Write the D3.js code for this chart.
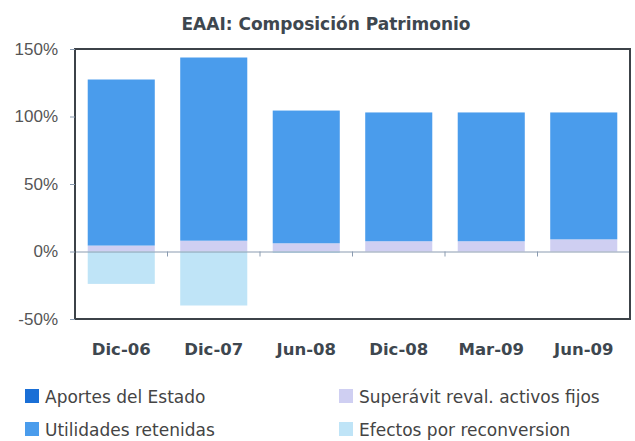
<!DOCTYPE html>
<html>
<head>
<meta charset="utf-8">
<script src="https://cdn.jsdelivr.net/npm/d3@7"></script>
<style>
  body { margin: 0; background: #fff; }
  svg { display: block; }
</style>
</head>
<body>
<div id="chart"></div>
<script>
// Data (percent of equity)
let periods = ['Dic-06', 'Dic-07', 'Jun-08', 'Dic-08', 'Mar-09', 'Jun-09']
let aportes = [0, 0, 0, 0, 0, 0]
let utilidades = [123, 135.7, 98.3, 95.4, 95.4, 94]
let superavit = [4.4, 8, 6.1, 7.6, 7.6, 9]
let efectos = [-24, -40, -1, 0, 0, 0]
let yTicks = [-50, 0, 50, 100, 150]

let seriesNames = ['Aportes del Estado', 'Utilidades retenidas', 'Superávit reval. activos fijos', 'Efectos por reconversion']
let seriesColors = ['#1a6fd6', '#4a9cec', '#cfcff2', '#bfe4f7']

// Plot constants
let W = 635, H = 441
let margin = {t: 49, r: 5, b: 122, l: 75}
let plotW = W - margin.l - margin.r
let plotH = H - margin.t - margin.b

let svg = d3.select('#chart').append('svg')
  .attr('width', W)
  .attr('height', H)
  .style('font-family', 'DejaVu Sans, sans-serif')

let x = d3.scaleBand()
  .domain(periods)
  .range([margin.l, margin.l + plotW])
  .paddingInner(0.275)
  .paddingOuter(0.1375)

let y = d3.scaleLinear()
  .domain([-50, 150])
  .range([margin.t + plotH, margin.t])

// Stacked segments: superávit at the base, then aportes, utilidades; efectos below zero
let rows = periods.map(function(p, i) {
  return {period: p, sup: superavit[i], apo: aportes[i], uti: utilidades[i], efe: efectos[i]}
})
let segs = []
rows.forEach(function(d) {
  let y0 = 0
  ;[['sup', 2], ['apo', 0], ['uti', 1]].forEach(function(k) {
    let v = d[k[0]]
    segs.push({period: d.period, y0: y0, y1: y0 + v, color: seriesColors[k[1]]})
    y0 += v
  })
  segs.push({period: d.period, y0: d.efe, y1: 0, color: seriesColors[3]})
})

svg.append('g')
  .selectAll('rect')
  .data(segs.filter(function(d) { return d.y1 !== d.y0 }))
  .enter().append('rect')
  .attr('x', function(d) { return x(d.period) })
  .attr('width', x.bandwidth())
  .attr('y', function(d) { return y(Math.max(d.y0, d.y1)) })
  .attr('height', function(d) { return Math.abs(y(d.y0) - y(d.y1)) })
  .style('fill', function(d) { return d.color })

// Zero line with category ticks
let zeroAxis = d3.axisBottom(x).tickSize(0).tickFormat('')
svg.append('g')
  .attr('transform', `translate(0,${y(0)})`)
  .call(zeroAxis)
  .call(function(g) { g.select('.domain').attr('stroke', '#8a9bb0').attr('stroke-width', 1) })
svg.append('g')
  .selectAll('line')
  .data(periods.slice(1))
  .enter().append('line')
  .attr('x1', function(d) { return x(d) - x.step() * x.paddingInner() / 2 })
  .attr('x2', function(d) { return x(d) - x.step() * x.paddingInner() / 2 })
  .attr('y1', y(0))
  .attr('y2', y(0) + 5)
  .attr('stroke', '#8a9bb0')

// Frame, drawn as four lines
let x0 = margin.l, x1 = margin.l + plotW, yT = y(150), yB = y(-50)
let frame = [[x0, yT, x1, yT], [x1, yT, x1, yB], [x0, yB, x1, yB], [x0, yT, x0, yB]]
svg.append('g')
  .selectAll('line')
  .data(frame)
  .enter().append('line')
  .attr('x1', function(d) { return d[0] })
  .attr('y1', function(d) { return d[1] })
  .attr('x2', function(d) { return d[2] })
  .attr('y2', function(d) { return d[3] })
  .attr('stroke', '#3c4248')
  .attr('stroke-width', 2)
  .attr('stroke-linecap', 'square')

// Y axis
let yAxis = d3.axisLeft(y)
  .tickValues(yTicks)
  .tickSize(5)
  .tickFormat(function(d) { return d + '%' })
svg.append('g')
  .attr('transform', `translate(${margin.l},0)`)
  .call(yAxis)
  .call(function(g) {
    g.select('.domain').remove()
    g.selectAll('.tick line').attr('stroke', '#8a9bb0')
    g.selectAll('.tick text')
      .attr('x', -17)
      .style('font-size', '17px')
      .style('fill', '#555')
      .style('font-weight', 300)
  })

// X labels
svg.append('g')
  .selectAll('text')
  .data(periods)
  .enter().append('text')
  .attr('x', function(d) { return x(d) + x.bandwidth() / 2 })
  .attr('y', 355)
  .attr('text-anchor', 'middle')
  .style('font-size', '16.5px')
  .style('font-weight', 'bold')
  .style('fill', '#3e474f')
  .text(function(d) { return d })

// Title
svg.append('text')
  .attr('x', 326)
  .attr('y', 30)
  .attr('text-anchor', 'middle')
  .style('font-size', '17px')
  .style('font-weight', 'bold')
  .style('fill', '#3e474f')
  .text('EAAI: Composición Patrimonio')

// Legend
let legendPos = [[25, 403], [25, 436], [339, 403], [339, 436]]
let legend = svg.append('g')
  .selectAll('g')
  .data(seriesNames)
  .enter().append('g')
  .attr('transform', function(d, i) { return `translate(${legendPos[i][0]},${legendPos[i][1]})` })
legend.append('rect')
  .attr('x', 0)
  .attr('y', -14)
  .attr('width', 14)
  .attr('height', 14)
  .style('fill', function(d, i) { return seriesColors[i] })
legend.append('text')
  .attr('x', 20)
  .attr('y', 0)
  .style('font-size', '17px')
  .style('fill', '#444')
  .text(function(d) { return d })
</script>
</body>
</html>
